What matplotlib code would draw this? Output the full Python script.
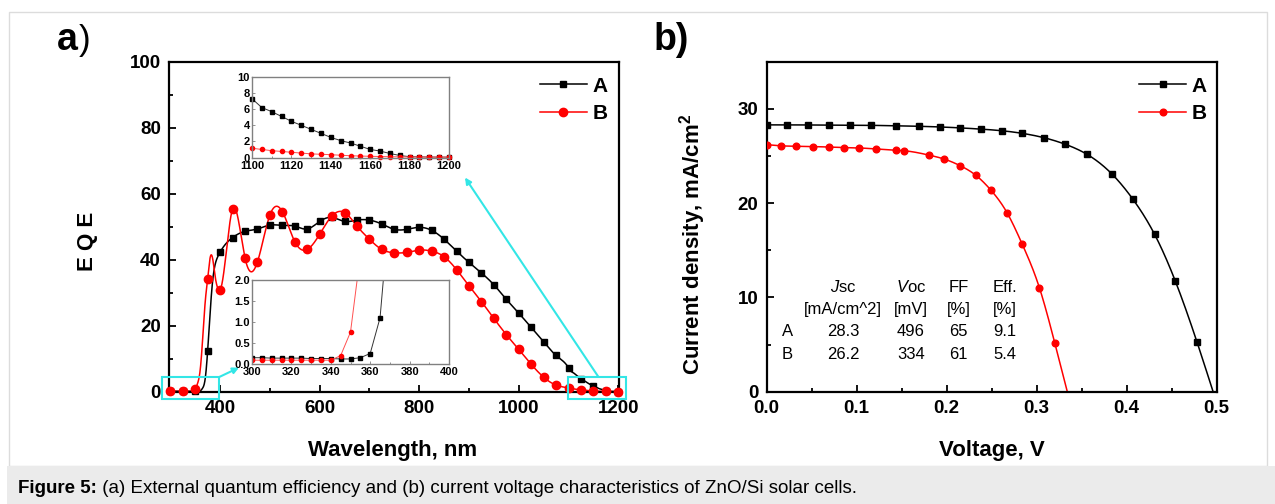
import numpy as np
import matplotlib.pyplot as plt
from matplotlib.patches import Rectangle
from matplotlib.lines import Line2D

plt.rcParams['font.family'] = ['Liberation Sans', 'DejaVu Sans']
plt.rcParams['mathtext.fontset'] = 'custom'
plt.rcParams['mathtext.rm'] = 'Liberation Sans'
plt.rcParams['mathtext.it'] = 'Liberation Sans:italic'
plt.rcParams['mathtext.bf'] = 'Liberation Sans:bold'

# EQE spectra: 5 nm steps at both band edges, 25 nm steps in between
wl_lo = [300, 305, 310, 315, 320, 325, 330, 335, 340, 345, 350,
         355, 360, 365, 370, 375, 380, 385, 390, 395, 400]
wl_mid = [425, 450, 475, 500, 525, 550, 575, 600, 625, 650, 675, 700, 725, 750,
          775, 800, 825, 850, 875, 900, 925, 950, 975, 1000, 1025, 1050, 1075]
wl_hi = [1100, 1105, 1110, 1115, 1120, 1125, 1130, 1135, 1140, 1145, 1150,
         1155, 1160, 1165, 1170, 1175, 1180, 1185, 1190, 1195, 1200]

eqe_a_lo = [0.15, 0.15, 0.14, 0.14, 0.14, 0.14, 0.13, 0.13, 0.13, 0.12, 0.12,
            0.15, 0.25, 1.1, 3.8, 12.3, 24.0, 33.5, 38.5, 40.8, 42.3]
eqe_a_mid = [46.7, 48.6, 49.3, 50.5, 50.4, 50.2, 49.3, 51.6, 52.8, 51.6, 52.0, 52.0, 50.8, 49.2,
             49.2, 49.8, 48.9, 46.2, 42.6, 39.2, 36.0, 32.4, 28.0, 23.8, 19.5, 15.1, 11.0]
eqe_a_hi = [7.3, 6.2, 5.7, 5.1, 4.5, 4.0, 3.5, 3.0, 2.5, 2.1, 1.8,
            1.4, 1.0, 0.8, 0.5, 0.25, 0.1, 0.08, 0.06, 0.05, 0.05]

eqe_b_lo = [0.09, 0.09, 0.09, 0.09, 0.09, 0.09, 0.09, 0.09, 0.09, 0.2, 0.76,
            2.6, 6.5, 16.0, 27.0, 34.2, 40.6, 40.4, 35.0, 31.5, 30.8]
eqe_b_mid = [55.3, 40.6, 39.3, 53.5, 54.6, 45.5, 43.1, 47.7, 53.3, 54.3, 50.2, 46.2, 43.1, 42.1,
             42.2, 42.9, 42.6, 40.9, 37.0, 32.1, 27.3, 22.2, 17.3, 12.8, 8.3, 4.4, 2.0]
eqe_b_hi = [1.15, 1.0, 0.85, 0.75, 0.65, 0.55, 0.45, 0.4, 0.35, 0.28, 0.22,
            0.18, 0.15, 0.12, 0.1, 0.08, 0.07, 0.06, 0.05, 0.05, 0.05]

# J-V curves
v_a = [0.0, 0.022, 0.046, 0.069, 0.092, 0.116, 0.144, 0.169, 0.192, 0.215, 0.238,
       0.261, 0.284, 0.308, 0.331, 0.356, 0.384, 0.407, 0.431, 0.454, 0.478]
j_a = [28.3, 28.3, 28.29, 28.28, 28.27, 28.25, 28.2, 28.15, 28.08, 27.98, 27.85,
       27.68, 27.4, 26.94, 26.27, 25.17, 23.05, 20.4, 16.69, 11.74, 5.3]
v_b = [0.0, 0.016, 0.033, 0.051, 0.069, 0.086, 0.103, 0.121, 0.144, 0.153,
       0.18, 0.197, 0.215, 0.232, 0.249, 0.267, 0.284, 0.303, 0.32]
j_b = [26.2, 26.08, 26.03, 26.0, 25.95, 25.9, 25.85, 25.75, 25.6, 25.55,
       25.1, 24.68, 23.97, 22.98, 21.39, 18.99, 15.63, 11.03, 5.2]

cells = ['A', 'B']
jsc = [28.3, 26.2]
voc = [496, 334]
ff = [65, 61]
eff = [9.1, 5.4]

CYAN = '#33e6e6'
RED = '#ff0000'


def natural_spline(x, y, num=1500):
    x = np.asarray(x, float)
    y = np.asarray(y, float)
    n = len(x)
    h = np.diff(x)
    A = np.zeros((n, n))
    r = np.zeros(n)
    A[0, 0] = A[-1, -1] = 1
    for i in range(1, n - 1):
        A[i, i - 1] = h[i - 1]
        A[i, i] = 2 * (h[i - 1] + h[i])
        A[i, i + 1] = h[i]
        r[i] = 6 * ((y[i + 1] - y[i]) / h[i] - (y[i] - y[i - 1]) / h[i - 1])
    M = np.linalg.solve(A, r)
    xs = np.linspace(x[0], x[-1], num)
    k = np.clip(np.searchsorted(x, xs) - 1, 0, n - 2)
    t0 = x[k + 1] - xs
    t1 = xs - x[k]
    hk = h[k]
    ys = (M[k] * t0 ** 3 + M[k + 1] * t1 ** 3) / (6 * hk) \
        + (y[k] / hk - M[k] * hk / 6) * t0 + (y[k + 1] / hk - M[k + 1] * hk / 6) * t1
    return xs, ys


W, H = 1275, 504


def box(l, t, r, b):
    return [l / W, 1 - b / H, (r - l) / W, (b - t) / H]


def style_main(ax, size=13.5):
    for s in ax.spines.values():
        s.set_linewidth(1.6)
    ax.tick_params(which='both', direction='in', top=False, right=False, width=1.3,
                   labelsize=size, pad=6)
    ax.tick_params(which='major', length=5)
    ax.tick_params(which='minor', length=3)
    for lbl in ax.get_xticklabels() + ax.get_yticklabels():
        lbl.set_fontweight('bold')


def style_inset(ax):
    for s in ax.spines.values():
        s.set_linewidth(1.0)
        s.set_color('#808080')
    ax.tick_params(which='both', direction='in', top=False, right=False, width=0.6,
                   color='#808080', labelsize=8)
    ax.tick_params(axis='x', pad=2.5)
    ax.tick_params(axis='y', pad=1.5)
    ax.tick_params(which='major', length=2.5)
    ax.tick_params(which='minor', length=1.5)
    for lbl in ax.get_xticklabels() + ax.get_yticklabels():
        lbl.set_fontweight('bold')


fig = plt.figure(figsize=(12.75, 5.04), dpi=100)

# page frame and caption band
fig.patches.append(Rectangle((9 / W, 1 - 466 / H), 1258 / W, 454 / H, transform=fig.transFigure,
                             facecolor='white', edgecolor='#dcdcdc', lw=1.0, zorder=-5))
fig.patches.append(Rectangle((7 / W, 0), 1 - 7 / W, 1 - 466 / H, transform=fig.transFigure,
                             facecolor='#ebebeb', edgecolor='none', zorder=-4))
cap = fig.text(18 / W, 1 - 493 / H, 'Figure 5:', fontsize=13.5, fontweight='bold', va='baseline')
ax_cap = fig.add_axes([0, 0, 1, 1], frameon=False)
ax_cap.set_axis_off()
ax_cap.annotate(' (a) External quantum efficiency and (b) current voltage characteristics of ZnO/Si solar cells.',
                xy=(1, 0), xycoords=cap, fontsize=13.5, va='bottom', ha='left')

# ---------- a) EQE ----------
wl = np.array(wl_lo + wl_mid + wl_hi)
eqe_a = np.array(eqe_a_lo + eqe_a_mid + eqe_a_hi)
eqe_b = np.array(eqe_b_lo + eqe_b_mid + eqe_b_hi)
pts = wl % 25 == 0

ax = fig.add_axes(box(169.3, 61.7, 619.3, 391.7))
for y, c, m, ms in [(eqe_a, 'black', 's', 5.0), (eqe_b, RED, 'o', 6.0)]:
    xs, ys = natural_spline(wl, y, 3000)
    ax.plot(xs, ys, color=c, lw=1.1)
    ax.plot(wl[pts], y[pts], ls='none', marker=m, ms=ms, color=c, clip_on=False, zorder=3)
ax.set_xlim(298, 1202)
ax.set_ylim(0, 100)
ax.set_xticks([400, 600, 800, 1000, 1200])
ax.set_xticks([500, 700, 900, 1100], minor=True)
ax.set_yticks([0, 20, 40, 60, 80, 100])
ax.set_yticks([10, 30, 50, 70, 90], minor=True)
style_main(ax)
ax.set_ylabel('E Q E', fontsize=16, fontweight='bold')
ax.yaxis.set_label_coords(-0.158, 0.455)
ax.set_xlabel('Wavelength, nm', fontsize=16, fontweight='bold')
ax.xaxis.set_label_coords(0.497, -0.145)
handles = [Line2D([], [], color='black', marker='s', ms=5.0, lw=1.1),
           Line2D([], [], color=RED, marker='o', ms=6.0, lw=1.1)]
ax.legend(handles, cells, loc='upper right', bbox_to_anchor=(0.975, 0.955), frameon=False,
          prop={'weight': 'bold', 'size': 15}, handlelength=2.25, handletextpad=0.3,
          labelspacing=0.4, borderpad=0, borderaxespad=0)

# zoom boxes and arrows to the insets
for x0, x1 in [(283, 398), (1098, 1215)]:
    ax.add_patch(Rectangle((x0, -2.2), x1 - x0, 6.7, fill=False, edgecolor=CYAN,
                           lw=1.5, clip_on=False, zorder=4))
arrow = dict(arrowstyle='-|>', color=CYAN, lw=1.5, mutation_scale=9, shrinkA=0, shrinkB=0)
ax.annotate('', xy=(438, 7.3), xytext=(399, 4.5), arrowprops=arrow, annotation_clip=False)
ax.annotate('', xy=(892, 64.9), xytext=(1160, 4.5), arrowprops=arrow, annotation_clip=False)

hi = (wl >= 1100)
ins = fig.add_axes(box(252, 77, 449, 157.5))
ins.plot(wl[hi], eqe_a[hi], color='#333333', lw=0.7, marker='s', ms=2.8, mfc='black', mec='black', clip_on=False)
ins.plot(wl[hi], eqe_b[hi], color='#ff5050', lw=0.7, marker='o', ms=3.0, mfc=RED, mec=RED, clip_on=False)
ins.set_xlim(1100, 1200)
ins.set_ylim(0, 10)
ins.set_xticks(range(1100, 1201, 20))
ins.set_xticks(range(1110, 1200, 20), minor=True)
ins.set_yticks(range(0, 11, 2))
style_inset(ins)

lo = (wl <= 400)
ins2 = fig.add_axes(box(252, 280, 449, 364))
ins2.plot(wl[lo], eqe_a[lo], color='#333333', lw=0.7, marker='s', ms=2.8, mfc='black', mec='black')
ins2.plot(wl[lo], eqe_b[lo], color='#ff5050', lw=0.7, marker='o', ms=3.0, mfc=RED, mec=RED)
ins2.set_xlim(300, 400)
ins2.set_ylim(0, 2)
ins2.set_xticks(range(300, 401, 20))
ins2.set_xticks(range(310, 400, 20), minor=True)
ins2.set_yticks([0, 0.5, 1.0, 1.5, 2.0])
style_inset(ins2)

fig.text(57 / W, 1 - 50 / H, 'a', fontsize=27, fontweight='bold', va='baseline')
fig.text(79 / W, 1 - 50 / H, ')', fontsize=25, va='baseline')

# ---------- b) J-V ----------
bx = fig.add_axes(box(766.7, 61.7, 1216.7, 391.7))
for v, j, vo, c, m, ms in [(v_a, j_a, voc[0], 'black', 's', 4.2), (v_b, j_b, voc[1], RED, 'o', 4.8)]:
    xs, ys = natural_spline(v + [vo / 1000], j + [0.0], 1500)
    bx.plot(xs, ys, color=c, lw=1.1)
    bx.plot(v, j, ls='none', marker=m, ms=ms, color=c, zorder=3)
bx.set_xlim(0, 0.5)
bx.set_ylim(0, 35)
bx.set_xticks(np.arange(0, 0.51, 0.1))
bx.set_xticks(np.arange(0.05, 0.5, 0.1), minor=True)
bx.set_xticklabels(['%.1f' % t for t in np.arange(0, 0.51, 0.1)])
bx.set_yticks([0, 10, 20, 30])
bx.set_yticks([5, 15, 25], minor=True)
style_main(bx)
bx.set_ylabel(r'Current density, mA/cm$^{\mathbf{2}}$', fontsize=16, fontweight='bold')
bx.yaxis.set_label_coords(-0.13, 0.445)
bx.set_xlabel('Voltage, V', fontsize=16, fontweight='bold')
bx.xaxis.set_label_coords(0.5, -0.145)
handles = [Line2D([], [], color='black', marker='s', ms=4.2, lw=1.1),
           Line2D([], [], color=RED, marker='o', ms=4.8, lw=1.1)]
bx.legend(handles, cells, loc='upper right', bbox_to_anchor=(0.978, 0.955), frameon=False,
          prop={'weight': 'bold', 'size': 15}, handlelength=2.3, handletextpad=0.25,
          labelspacing=0.4, borderpad=0, borderaxespad=0)

# parameter table
col_x = [0.170, 0.320, 0.426, 0.529]
row_y = [0.317, 0.248, 0.183, 0.114]
heads = [r'$J$sc', r'$V$oc', 'FF', 'Eff.']
units = ['[mA/cm^2]', '[mV]', '[%]', '[%]']
tk = dict(transform=bx.transAxes, ha='center', va='center', fontsize=12)
for x, hd, u in zip(col_x, heads, units):
    bx.text(x, row_y[0], hd, **tk)
    bx.text(x, row_y[1], u, **tk)
for r, name in enumerate(cells):
    y = row_y[2 + r]
    bx.text(0.046, y, name, **tk)
    vals = ['%.1f' % jsc[r], '%d' % voc[r], '%d' % ff[r], '%.1f' % eff[r]]
    for x, s in zip(col_x, vals):
        bx.text(x, y, s, **tk)

fig.text(654 / W, 1 - 50 / H, 'b)', fontsize=27, fontweight='bold', va='baseline')

fig.savefig('out.png', dpi=100)
